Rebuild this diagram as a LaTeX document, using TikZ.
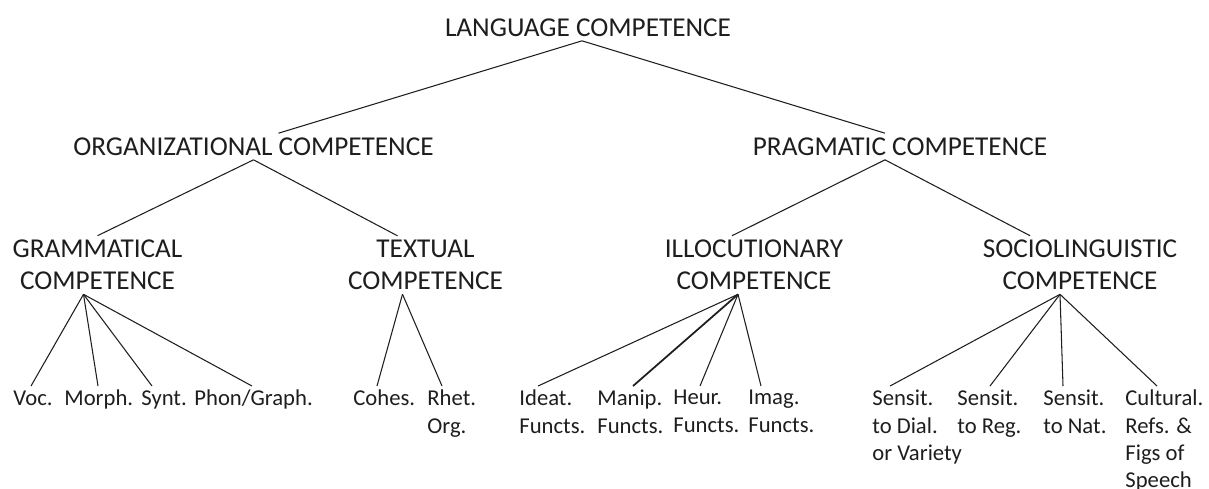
\documentclass[tikz,border=0pt]{standalone}
\usepackage{fontspec}
\setmainfont{Carlito}
\usepackage{tikz}
\usetikzlibrary{calc}
\definecolor{Ink}{HTML}{1E1E1E}

\begin{document}
\begin{tikzpicture}[x=0.02cm,y=-0.02cm,
  comp/.style={font=\fontsize{15.5}{18.2}\selectfont,align=center,inner sep=0pt,outer sep=2.5pt,text=Ink},
  leaf/.style={font=\fontsize{12.9}{15.5}\selectfont,align=left,anchor=north west,inner sep=0pt,outer xsep=2.5pt,outer ysep=2.4pt,text=Ink,
    execute at begin node={\vphantom{Ah}}},
  link/.style={draw=Ink,line width=0.6pt}
]
\useasboundingbox[fill=white] (0,0) rectangle (1209,488);
% upper levels
\node[comp] (lang) at (588,27.5) {LANGUAGE COMPETENCE};
\node[comp] (org) at (253.5,146.5) {ORGANIZATIONAL COMPETENCE};
\node[comp] (prag) at (900,146.5) {PRAGMATIC COMPETENCE};
\node[comp] (gram) at (97.5,265) {GRAMMATICAL\\COMPETENCE};
\node[comp] (textual) at (425.5,265) {TEXTUAL\\COMPETENCE};
\node[comp] (illoc) at (754,265) {ILLOCUTIONARY\\COMPETENCE};
\node[comp] (socio) at (1080,265) {SOCIOLINGUISTIC\\COMPETENCE};
% leaves
\node[leaf] (voc) at (9,386) {Voc.};
\node[leaf] (morph) at (60,386) {Morph.};
\node[leaf] (synt) at (137,386) {Synt.};
\node[leaf] (phon) at (190,386) {Phon/Graph.};
\node[leaf] (cohes) at (349,386) {Cohes.};
\node[leaf] (rhet) at (423,386) {Rhet.\\Org.};
\node[leaf] (ideat) at (515,386) {Ideat.\\Functs.};
\node[leaf] (manip) at (593,386) {Manip.\\Functs.};
\node[leaf] (heur) at (669,386) {Heur.\\Functs.};
\node[leaf] (imag) at (744,386) {Imag.\\Functs.};
\node[leaf] (dial) at (868,386) {Sensit.\\to Dial.\\or Variety};
\node[leaf] (reg) at (953,386) {Sensit.\\to Reg.};
\node[leaf] (nat) at (1039,386) {Sensit.\\to Nat.};
\node[leaf] (cult) at (1121,386) {Cultural.\\Refs. \&\\Figs of\\Speech};
% branches
\foreach \p/\c/\a/\b in {lang/org/-6/25,lang/prag/-6/-15,org/gram/0/0,org/textual/0/-28,prag/illoc/-15/-22,prag/socio/-15/-50} {
  \draw[link] ($(\p.south)+(\a,0)$) -- ($(\c.north)+(\b,0)$);
}
\foreach \c/\b in {voc/22,morph/38,synt/15,phon/62} {
  \draw[link] ($(gram.south)+(-14,0)$) -- ($(\c.north west)+(\b,0)$);
}
\foreach \c/\b in {cohes/28,rhet/19} {
  \draw[link] ($(textual.south)+(-23,0)$) -- ($(\c.north west)+(\b,0)$);
}
\foreach \c/\b in {ideat/23,heur/31,imag/17} {
  \draw[link] ($(illoc.south)+(-16,0)$) -- ($(\c.north west)+(\b,0)$);
}
\draw[link,line width=1pt] ($(illoc.south)+(-16,0)$) -- ($(manip.north west)+(40,0)$);
\foreach \c/\b in {dial/22,reg/37,nat/24,cult/36} {
  \draw[link] ($(socio.south)+(-20,0)$) -- ($(\c.north west)+(\b,0)$);
}
\end{tikzpicture}
\end{document}
